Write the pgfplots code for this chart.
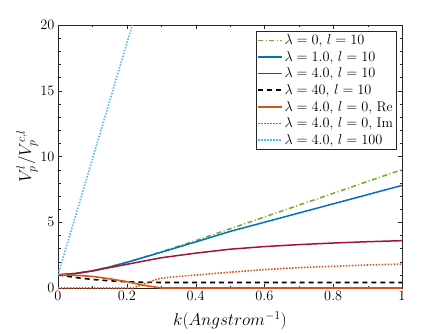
\documentclass[border=0pt]{standalone}
\usepackage{pgfplots}
\pgfplotsset{compat=1.18}
\definecolor{mgreen}{rgb}{0.466,0.674,0.188}
\definecolor{mblue}{rgb}{0,0.447,0.741}
\definecolor{mred}{rgb}{0.635,0.078,0.184}
\definecolor{morange}{rgb}{0.85,0.325,0.098}
\definecolor{mcyan}{rgb}{0.301,0.745,0.933}
\definecolor{maxis}{rgb}{0.15,0.15,0.15}
\begin{document}
\begin{tikzpicture}
\begin{axis}[scale only axis,width=344bp,height=263bp,
  xmin=0,xmax=1,ymin=0,ymax=20,
  xtick={0,0.2,...,1},ytick={0,5,...,20},
  minor x tick num=1,minor y tick num=4,
  tick align=inside,major tick length=4bp,minor tick length=2.5bp,
  axis line style={maxis},tick style={maxis},
  xticklabel style={/pgf/number format/.cd,fixed,precision=1},
  tick label style={font=\fontsize{14.5}{15}\selectfont},
  label style={font=\fontsize{17}{17}\selectfont},
  xlabel={$k(Angstrom^{-1})$},ylabel={$V_p^l/V_p^{c,l}$},
  xlabel style={yshift=-4bp},ylabel style={yshift=-4bp},
  legend pos=north east,
  legend style={font=\fontsize{14}{16}\selectfont,draw=maxis,xshift=5bp,yshift=2bp,inner sep=1.5bp,
    row sep=1.2bp,nodes={inner sep=2bp}},
  legend cell align=left,
  legend image code/.code={\draw[#1,line width=1.6pt] (0cm,0cm) -- (0.82cm,0cm);},
  clip=true]
\addplot[mgreen,dash pattern=on 5pt off 2.5pt on 1pt off 2.5pt,line width=1.6pt] coordinates {(0,1)(0.05,1.1)(0.1,1.3)(0.15,1.6)(0.2,1.95)(0.25,2.35)(0.3,2.75)(0.4,3.6)(0.5,4.5)(0.6,5.4)(0.7,6.3)(0.8,7.2)(0.9,8.1)(1,9.0)};
\addlegendentry{$\lambda=0$, $l=10$}
\addplot[mblue,line width=1.5pt] coordinates {(0,1)(0.05,1.1)(0.1,1.3)(0.15,1.6)(0.2,1.95)(0.25,2.33)(0.3,2.72)(0.4,3.5)(0.5,4.3)(0.6,5.0)(0.7,5.7)(0.8,6.4)(0.9,7.1)(1,7.8)};
\addlegendentry{$\lambda=1.0$, $l=10$}
\addplot[mred,line width=1.5pt] coordinates {(0,1)(0.05,1.1)(0.1,1.3)(0.15,1.55)(0.2,1.8)(0.25,2.05)(0.3,2.3)(0.4,2.65)(0.5,2.95)(0.6,3.15)(0.7,3.3)(0.8,3.42)(0.9,3.52)(1,3.6)};
\addlegendentry{$\lambda=4.0$, $l=10$}
\addplot[black,dash pattern=on 5pt off 4pt,line width=1.6pt] coordinates {(0,1)(0.05,0.8)(0.1,0.65)(0.15,0.55)(0.2,0.47)(0.25,0.43)(0.3,0.42)(0.5,0.42)(0.7,0.42)(1,0.42)};
\addlegendentry{$\lambda=40$, $l=10$}
\addplot[morange,line width=1.6pt] coordinates {(0,1)(0.05,0.97)(0.1,0.88)(0.15,0.7)(0.2,0.48)(0.25,0.2)(0.3,0)(0.5,0)(1,0)};
\addlegendentry{$\lambda=4.0$, $l=0$, Re}
\addplot[morange,dash pattern=on 1.5pt off 1.5pt,line width=1.6pt] coordinates {(0,0)(0.1,0)(0.2,0)(0.22,0.02)(0.25,0.3)(0.28,0.6)(0.3,0.75)(0.35,0.88)(0.4,0.98)(0.5,1.2)(0.6,1.4)(0.7,1.55)(0.8,1.65)(0.9,1.75)(1,1.82)};
\addlegendentry{$\lambda=4.0$, $l=0$, Im}
\addplot[mcyan,dash pattern=on 1.5pt off 1.5pt,line width=1.6pt] coordinates {(0,1)(0.05,5.4)(0.1,9.8)(0.15,14.2)(0.2,18.6)(0.216,20)};
\addlegendentry{$\lambda=4.0$, $l=100$}
\end{axis}
\path (current axis.south west)++(-58bp,-46bp) (current axis.north east)++(43bp,25bp);
\end{tikzpicture}
\end{document}
